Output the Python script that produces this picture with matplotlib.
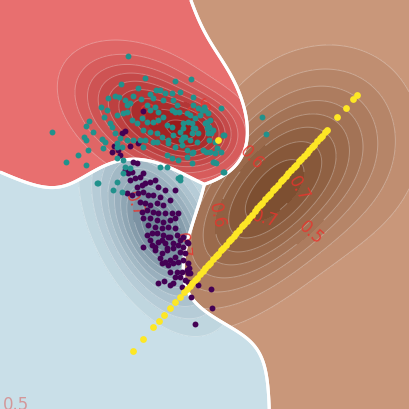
import numpy as np
import matplotlib.pyplot as plt
from matplotlib.colors import LinearSegmentedColormap

# points, in picture coordinates (y grows downwards)
teal_pts = [
    (128, 56), (52, 132), (66, 162), (78, 155), (86, 165), (98, 183), (262, 117), (266, 134),
    (121, 84), (108, 98), (115, 96), (119, 97), (101, 107), (107, 110), (89, 121), (86, 126),
    (93, 132), (84, 137), (102, 139), (110, 123), (125, 100), (127, 105), (130, 103), (133, 96),
    (138, 88), (141, 99), (123, 113), (127, 112), (117, 115), (132, 120), (137, 123), (104, 117),
    (112, 127), (115, 133), (120, 138), (127, 140), (140, 140), (117, 147), (103, 148), (86, 140),
    (88, 150), (145, 78), (156, 90), (160, 90), (163, 100), (175, 81), (180, 92), (191, 79),
    (193, 97), (203, 110), (160, 167), (167, 167), (178, 178), (221, 108), (224, 135), (209, 140),
    (192, 133), (183, 128), (185, 137), (181, 140), (150, 94), (153, 98), (165, 93), (172, 93),
    (173, 100), (177, 105), (172, 110), (175, 112), (179, 112), (193, 105), (198, 108), (202, 110),
    (205, 110), (190, 115), (195, 118), (183, 123), (188, 122), (147, 105), (150, 110), (155, 107),
    (158, 112), (142, 118), (147, 122), (153, 122), (158, 120), (163, 117), (167, 125), (172, 127),
    (143, 130), (150, 132), (157, 133), (162, 137), (168, 140), (173, 135), (145, 140), (153, 142),
    (180, 132), (192, 123), (195, 128), (210, 120), (207, 128), (105, 142), (117, 143), (122, 147),
    (133, 140), (143, 147), (157, 142), (168, 143), (175, 147), (182, 145), (187, 150), (192, 153),
    (167, 155), (172, 158), (178, 160), (97, 183), (113, 190), (122, 192), (117, 182), (125, 167),
    (130, 168), (123, 173), (117, 158), (123, 160), (180, 180), (204, 107), (207, 122), (209, 127),
    (217, 148), (221, 152), (214, 162), (216, 163), (224, 172), (206, 152), (211, 133), (187, 113),
    (200, 115), (208, 113), (205, 123), (223, 135), (213, 130), (193, 128), (198, 133), (183, 137),
    (190, 140), (197, 142), (208, 133), (215, 142), (203, 150), (210, 152), (215, 153), (193, 152),
    (187, 157), (192, 163), (213, 162), (223, 172), (180, 177),
]

purple_pts = [
    (143, 111), (125, 131), (122, 133), (130, 146), (114, 146), (138, 143), (118, 150), (112, 152),
    (120, 155), (133, 162), (137, 163), (125, 170), (128, 173), (132, 172), (130, 180), (135, 178),
    (140, 177), (143, 173), (137, 187), (142, 185), (145, 183), (150, 182), (155, 180), (158, 187),
    (165, 190), (175, 190), (127, 193), (132, 195), (138, 193), (143, 192), (148, 195), (153, 195),
    (160, 197), (170, 200), (140, 202), (145, 203), (150, 205), (157, 203), (163, 205), (142, 212),
    (147, 210), (153, 212), (158, 213), (165, 213), (172, 213), (143, 218), (150, 218), (157, 220),
    (163, 222), (170, 220), (148, 225), (155, 227), (162, 228), (168, 227), (175, 228), (157, 233),
    (163, 235), (170, 237), (177, 235), (183, 237), (150, 240), (158, 242), (165, 243), (173, 243),
    (143, 247), (155, 247), (167, 248), (178, 245), (187, 242), (180, 240), (175, 218), (178, 213),
    (147, 235), (152, 233), (162, 240), (168, 237), (183, 247), (188, 243), (152, 245), (155, 250),
    (162, 253), (167, 250), (173, 248), (180, 252), (185, 253), (160, 258), (165, 262), (170, 260),
    (175, 257), (178, 262), (183, 260), (162, 263), (168, 265), (173, 263), (170, 272), (177, 272),
    (182, 272), (187, 270), (188, 273), (175, 277), (180, 277), (185, 280), (158, 283), (164, 281),
    (170, 285), (173, 283), (182, 287), (188, 282), (190, 273), (191, 297), (198, 285), (188, 263),
    (189, 268), (195, 324), (212, 308), (211, 289),
]

yellow_pts = [
    (133, 351), (143, 339), (153, 327), (159, 321), (164, 315), (170, 308), (175, 302), (180, 297),
    (184, 292), (187, 289), (190, 286), (192, 283), (195, 280), (197, 278), (200, 274), (203, 271),
    (205, 268), (208, 265), (210, 263), (213, 259), (216, 256), (218, 254), (221, 250), (223, 248),
    (226, 245), (229, 241), (231, 239), (234, 236), (236, 233), (239, 230), (242, 226), (244, 224),
    (247, 221), (249, 218), (252, 215), (255, 211), (257, 208), (260, 205), (262, 203), (265, 199),
    (268, 196), (270, 194), (273, 190), (275, 188), (278, 185), (281, 181), (283, 179), (286, 176),
    (288, 173), (291, 170), (294, 167), (296, 165), (299, 161), (301, 159), (304, 156), (307, 153),
    (309, 150), (312, 147), (314, 145), (317, 141), (320, 138), (322, 136), (325, 132), (327, 130),
    (337, 117), (346, 108), (353, 99), (357, 95), (218, 140),
]

# density components used for the shading: x, y, sigma major, sigma minor, angle (deg), weight
teal_comps = [(150, 115, 50, 32, 30, 0.75), (200, 133, 28, 22, 0, 0.45)]
purple_comps = [(158, 228, 55, 30, 62, 1.0)]
yellow_comps = [(258, 207, 75, 42, -48, 0.75), (325, 145, 60, 60, 0, 0.3)]

# class anchors that decide the coloured regions
teal_anchors = [(55, 125), (133, 95), (205, 130), (130, 10)]
purple_anchors = [(0, 245), (136, 197), (178, 258), (200, 360)]
yellow_anchors = [(300, 115), (212, 255), (240, 272), (340, 360), (245, -25), (300, 40), (298, 212)]
anchor_sigma = 45

levels = [0.35, 0.4, 0.45, 0.5, 0.55, 0.6, 0.65, 0.7, 0.75, 0.8]
label_levels = [0.5, 0.6, 0.7]
far_colors = ['#e86f6f', '#c9dfe8', '#c9977a']
dark_colors = ['#9a1a1a', '#72899a', '#744628']
point_colors = ['#21918c', '#440154', '#fde725']


def mixture(X, Y, comps):
    out = np.zeros_like(X)
    for cx, cy, s1, s2, ang, w in comps:
        t = np.deg2rad(ang)
        dx, dy = X - cx, Y - cy
        u = dx * np.cos(t) + dy * np.sin(t)
        v = -dx * np.sin(t) + dy * np.cos(t)
        out += w * np.exp(-0.5 * ((u / s1) ** 2 + (v / s2) ** 2))
    return out


xs = np.linspace(0, 409, 410)
X, Y = np.meshgrid(xs, xs)

f = [mixture(X, Y, c) for c in (teal_comps, purple_comps, yellow_comps)]
scores = np.array([
    mixture(X, Y, [(ax_, ay_, anchor_sigma, anchor_sigma, 0, 1.0) for ax_, ay_ in anc])
    for anc in (teal_anchors, purple_anchors, yellow_anchors)
])
label = scores.argmax(axis=0)

fig = plt.figure(figsize=(4.09, 4.09), dpi=100)
ax = fig.add_axes([0, 0, 1, 1])
ax.set_facecolor('white')

fill_levels = [-1] + levels + [5]
other_levels = [l for l in levels if l not in label_levels]
label_sets = []
for k in range(3):
    val = 0.3 + 0.5 * f[k]
    val = np.ma.masked_where(label != k, val)
    cmap = LinearSegmentedColormap.from_list('c%d' % k, [far_colors[k], dark_colors[k]])
    cols = [cmap(0.0)] + [cmap(min((lv - 0.3) / 0.45, 1.0)) for lv in levels]
    ax.contourf(X, Y, val, levels=fill_levels, colors=cols)
    ax.contour(X, Y, val, levels=other_levels, colors='white', linewidths=0.7, alpha=0.3)
    cs = ax.contour(X, Y, val, levels=label_levels, colors='white', linewidths=0.7, alpha=0.3)
    label_sets.append(cs)

# labels on the contours
lab_pos = [
    [(200, 110), (135, 115)],
    [(130, 203), (168, 245)],
    [(247, 153), (212, 215), (262, 212), (295, 187), (310, 232)],
]
for k in range(3):
    try:
        txts = ax.clabel(label_sets[k], manual=lab_pos[k], inline=True, fmt='%.1f',
                         fontsize=12, colors='#e8352d')
        for t in txts:
            t.set_alpha(0.85)
    except (IndexError, ValueError):
        pass
ax.text(3, 410, '0.5', fontsize=12, color='#e0403a', alpha=0.45)

# class boundaries
for k in range(3):
    others = np.delete(scores, k, axis=0).max(axis=0)
    ax.contour(X, Y, scores[k] - others, levels=[0], colors='white', linewidths=2.2)

for pts, col, sz in zip((purple_pts, teal_pts, yellow_pts),
                        (point_colors[1], point_colors[0], point_colors[2]), (18, 18, 24)):
    p = np.array(pts)
    ax.scatter(p[:, 0], p[:, 1], s=sz, color=col, linewidths=0, zorder=5)

ax.set_xlim(0, 409)
ax.set_ylim(409, 0)
ax.axis('off')
fig.savefig('out.png', dpi=100)
